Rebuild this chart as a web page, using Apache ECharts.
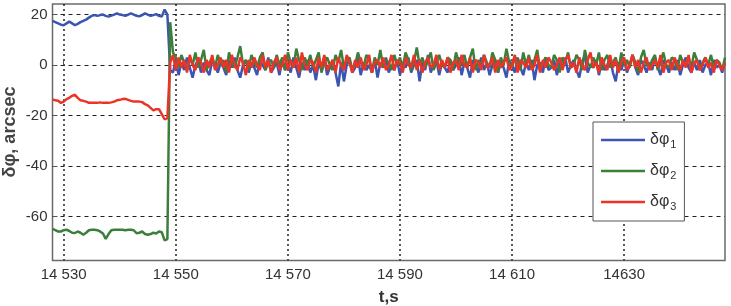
<!DOCTYPE html>
<html><head><meta charset="utf-8">
<script src="https://cdn.jsdelivr.net/npm/echarts@6/dist/echarts.min.js"></script>
<style>html,body{margin:0;padding:0;background:#fff}#c{width:731px;height:306px}</style>
</head><body><div id="c"></div>
<script>
// sampling of the record (s)
const tStart = 14528;
const sampleStep = 0.5;
const xTicks = [14530, 14550, 14570, 14590, 14610, 14630];
const xTickLabels = ['14 530', '14 550', '14 570', '14 590', '14 610', '14630'];
const yTicks = [-60, -40, -20, 0, 20];
const seriesNames = ['δφ1', 'δφ2', 'δφ3'];
const yAxisTitle = 'δφ, arcsec';

// δφ1 (blue)
const bluePre = [17.5,17,16.5,16,15.8,16.5,17.2,16.5,15.8,16.3, 17,17.5,18,18.8,19.5,19.8,19.5,19.8,20,19.5,
  19.2,19.6,20,20.5,20,19.8,19.5,20,20.5,20, 19.5,19.3,19.8,20.5,20,19.5,19.8,20.2,19.5,19.2,22];
const blueJump = [20];
const bluePost = [
  -2,-3,2,-4,1,-2,3,-1,-5,0,2,-3,1,-2,-4,2,0,-3,1,-1,
  -4,2,-1,3,-2,-5,0,2,-3,1,-1,-4,2,0,-2,3,-3,-1,1,-4,
  2,-2,0,-3,3,-1,-5,1,-2,2,-3,0,-6,1,-2,3,-4,-1,2,-3,
  -8.5,1,-6.5,0,2,-3,-1,3,-4,1,-2,0,-3,2,-5,1,-1,3,-3,0,
  -2,2,-4,1,-1,3,-3,0,2,-6.5,1,-2,4,-3,0,2,-4,1,-1,-3,
  2,-2,0,3,-4,1,-1,-5,2,0,-3,3,-2,1,-4,0,2,-3,1,-1,
  -5,2,0,-3,3,-1,-4,1,-2,2,-6,0,1,-3,3,-2,-1,2,-4,1,
  -1,3,-3,0,2,-2,-5,1,4,-3,0,-1,2,-4,1,-2,0,3,-3,-6.5,
  1,-2,2,-3,0,4,-1,-4,2,0,-3,1,-2,3,-1,-4,2,0,-3,1,
  -2,2,-4,0,3,-1,-3,1,-2,2,-3,0,1,-4,2,-1,0,-3,1];

// δφ2 (green)
const greenPre = [-65,-65.5,-66,-66,-65.5,-65.3,-65.8,-66.5,-66.6,-66, -66.5,-67.3,-66.5,-65.5,-65.3,-65.3,-65.5,-66,-66.8,-68.9,
  -67,-65.5,-65.3,-65.3,-65.3,-65.3,-65.5,-65.3,-65.3,-65.5, -66.7,-66.5,-66,-67,-67.3,-67,-66.5,-66.8,-66,-66.3,-69.5];
const greenJump = [-69];
const greenPost = [
  17,5,3,-1,4,1,-2,3,0,5,-1,2,6,-2,1,3,-1,4,0,2,
  -3,5,1,-1,3,7.5,0,2,-2,4,1,-1,3,5,-2,1,2,-1,4,0,
  3,-2,5,1,-1,6.5,2,-2,3,0,4,-1,2,5,-3,1,3,0,-2,4,
  1,6,-1,2,3,-2,0,5,1,-1,4,2,-3,3,0,6,-1,2,1,-2,
  4,0,3,-1,5,2,-2,1,7,0,3,-1,2,5,-2,1,4,0,-1,3,
  2,-2,5,1,0,4,-1,3,6.5,-2,2,0,4,1,-1,5,2,-3,3,0,
  6.5,1,-1,3,2,-2,5,0,4,-1,2,6,-2,1,3,0,-1,4,2,-3,
  3,1,5,-1,0,4,2,-2,6,1,-1,3,0,5,-2,2,4,-1,1,3,
  -2,5,0,2,-1,4,1,-3,3,6,0,-1,2,4,-2,1,5,0,-1,3,
  2,-2,4,1,0,3,-1,5,2,-2,1,3,0,4,-1,2,1,-2,3];

// δφ3 (red)
const redPre = [-13.6,-14,-14.2,-15,-14.5,-13.5,-13,-12.2,-11.8,-13, -14,-14.2,-14.5,-15,-15,-15,-15,-14.8,-15,-15,
  -15,-14.8,-14.5,-14,-13.8,-13.5,-13.4,-13.8,-14.2,-14.5, -14.5,-14.5,-14.7,-15.5,-16,-17,-18,-17.5,-17.5,-19.5,-21.5];
const redJump = [-21];
const redPost = [
  1,4,-2,3,-1,2,-3,4,0,-2,3,1,-3,2,-1,4,-2,0,3,-1,
  2,-3,4,0,-2,3,1,-4,2,-1,3,0,-2,4,-1,2,-3,1,3,-2,
  0,4,-2,2,-1,3,-3,5,0,-2,2,1,-3,3,-1,4,-2,0,2,-3,
  3,0,-2,4,1,-3,2,-1,3,-2,0,4,-3,1,2,-1,3,-2,0,4,
  -2,2,1,-3,3,0,-1,4,-2,2,-3,1,3,-1,0,4,-2,2,-1,3,
  -3,1,2,-2,4,0,-1,3,-3,2,1,-2,4,-1,0,3,-3,2,-1,1,
  3,-2,0,4,-3,2,1,-1,3,-2,0,4,-3,2,-1,3,1,-2,0,3,
  -2,2,4,-1,1,-3,3,0,-2,2,5,-1,1,-3,3,0,-2,4,-1,2,
  -3,1,3,-2,0,4,-1,2,-3,1,3,-2,0,2,-1,4,-3,1,2,-2,
  3,0,-2,2,-1,4,-3,1,2,-2,0,3,-1,1,-3,2,0,-2,1];

const colors = ['#3b55b2', '#3b7f3b', '#ec3327'];
const allVals = [bluePre.concat(blueJump, bluePost), greenPre.concat(greenJump, greenPost), redPre.concat(redJump, redPost)];

function toPairs(vals) { return vals.map((v, i) => [tStart + i * sampleStep, v]); }

const FONT = "'Liberation Sans', Arial, sans-serif";
const chart = echarts.init(document.getElementById('c'), null, { renderer: 'canvas' });
chart.setOption({
  animation: false,
  backgroundColor: '#fff',
  grid: { left: 52.5, right: 6, top: 4, bottom: 45.5, containLabel: false, outerBoundsMode: 'none',
    show: true, borderColor: '#6a6a6a', borderWidth: 1.5, backgroundColor: 'transparent' },
  graphic: [{
    type: 'text', x: 10, y: 132, rotation: Math.PI / 2, silent: true,
    style: { text: yAxisTitle, fontFamily: FONT, fontSize: 18, fontWeight: 'bold', fill: '#444', align: 'center', verticalAlign: 'middle' }
  }],
  legend: {
    orient: 'vertical', left: 593, top: 122,
    padding: [9, 8, 9, 8], itemGap: 12, itemWidth: 44, itemHeight: 2.5,
    icon: 'rect',
    backgroundColor: '#fff', borderColor: '#555', borderWidth: 1,
    data: seriesNames,
    formatter: n => '{a|δφ}{s|' + n.slice(2) + '}',
    textStyle: { fontFamily: FONT, color: '#333', rich: {
      a: { fontSize: 16, fontFamily: FONT, color: '#333', lineHeight: 20 },
      s: { fontSize: 11, fontFamily: FONT, color: '#333', lineHeight: 20, verticalAlign: 'bottom', padding: [8, 0, 0, 1] }
    } }
  },
  xAxis: {
    type: 'value', min: 14528, max: 14648,
    name: 't,s', nameLocation: 'middle', nameGap: 28,
    nameTextStyle: { fontFamily: FONT, fontSize: 17, fontWeight: 'bold', color: '#333' },
    axisLine: { show: false },
    axisTick: { show: true, inside: true, length: 5, customValues: xTicks, lineStyle: { color: '#555' } },
    axisLabel: { customValues: xTicks, margin: 7, fontFamily: FONT, fontSize: 15, color: '#333',
      formatter: v => { const k = xTicks.indexOf(v); return k >= 0 ? xTickLabels[k] : ''; } },
    splitLine: { show: true, lineStyle: { color: '#222', width: 1.5, type: [2, 3] } }
  },
  yAxis: {
    type: 'value', min: -77.5, max: 24.2,
    axisLine: { show: false },
    axisTick: { show: true, inside: true, length: 5, customValues: yTicks, lineStyle: { color: '#555' } },
    axisLabel: { customValues: yTicks, margin: 5, fontFamily: FONT, fontSize: 15, color: '#333' },
    splitLine: { show: true, lineStyle: { color: '#222', width: 1, type: [4, 4] } }
  },
  series: seriesNames.map((n, k) => ({
    name: n, type: 'line', data: toPairs(allVals[k]), symbol: 'none', showSymbol: false,
    color: colors[k], lineStyle: { width: 2.5, color: colors[k] }, z: 2 + k
  }))
});
</script></body></html>
